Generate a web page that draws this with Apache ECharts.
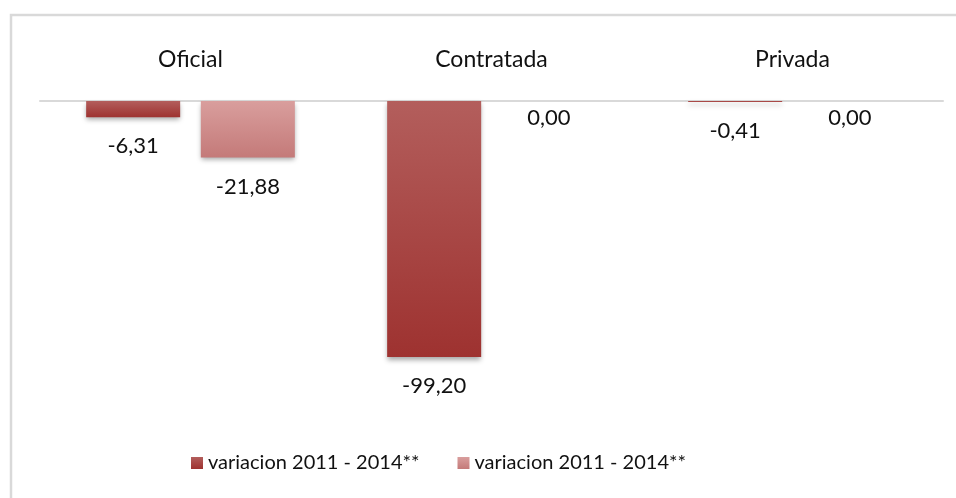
<!DOCTYPE html>
<html>
<head>
<meta charset="utf-8">
<script src="https://cdn.jsdelivr.net/npm/echarts@6/dist/echarts.min.js"></script>
<style>
  html, body { margin: 0; padding: 0; background: #fff; }
  #chart { width: 956px; height: 498px; }
</style>
</head>
<body>
<div id="chart"></div>
<script>
const categories = ['Oficial', 'Contratada', 'Privada']
const variacionA = [-6.31, -99.20, -0.41]
const variacionB = [-21.88, 0.00, 0.00]
const seriesNames = ['variacion 2011 - 2014**', 'variacion 2011 - 2014**']

const FONT = 'Lato'

const fmt = v => v.toFixed(2).replace('.', ',')

// zero values sit closer to the axis, like the original
const toData = arr => arr.map(v => ({
  value: v,
  label: { distance: v === 0 ? 6 : 18 }
}))

const grad = (top, bottom) => new echarts.graphic.LinearGradient(0, 0, 0, 1, [
  { offset: 0, color: top },
  { offset: 1, color: bottom }
])

const chart = echarts.init(document.getElementById('chart'))

chart.setOption({
  animation: false,
  textStyle: { fontFamily: FONT },
  graphic: [
    {
      type: 'polyline',
      shape: { points: [[11, 498], [11, 15], [956, 15]] },
      style: { stroke: '#d9d9d9', lineWidth: 2.5, fill: null }
    }
  ],
  legend: {
    left: 191,
    top: 453,
    padding: 0,
    itemWidth: 12,
    itemHeight: 12,
    itemGap: 38,
    icon: 'rect',
    data: ['s1', 's2'],
    formatter: name => seriesNames[name === 's1' ? 0 : 1],
    textStyle: { fontFamily: FONT, fontSize: 20, color: '#111' }
  },
  grid: { left: 40, right: 13, top: 101, height: 258 },
  xAxis: {
    type: 'category',
    position: 'top',
    data: categories,
    axisLine: { lineStyle: { color: '#d9d9d9', width: 2 } },
    axisTick: { show: false },
    axisLabel: { margin: 30, fontSize: 23, color: '#111', fontFamily: FONT }
  },
  yAxis: {
    type: 'value',
    min: -100,
    max: 0,
    show: false,
    splitLine: { show: false }
  },
  series: [
    {
      name: 's1',
      type: 'bar',
      data: toData(variacionA),
      barWidth: 94,
      barGap: '22%',
      itemStyle: {
        color: grad('#b35e5c', '#9e3230'),
        shadowColor: 'rgba(0,0,0,0.35)',
        shadowBlur: 5,
        shadowOffsetY: 3
      },
      label: {
        show: true,
        position: 'bottom',
        formatter: p => fmt(p.value),
        fontSize: 22,
        color: '#111',
        fontFamily: FONT
      }
    },
    {
      name: 's2',
      type: 'bar',
      data: toData(variacionB),
      barWidth: 94,
      itemStyle: {
        color: grad('#d99e9d', '#c47a79'),
        shadowColor: 'rgba(0,0,0,0.35)',
        shadowBlur: 5,
        shadowOffsetY: 3
      },
      label: {
        show: true,
        position: 'bottom',
        formatter: p => fmt(p.value),
        fontSize: 22,
        color: '#111',
        fontFamily: FONT
      }
    }
  ]
})

window.addEventListener('resize', () => chart.resize())
</script>
</body>
</html>
